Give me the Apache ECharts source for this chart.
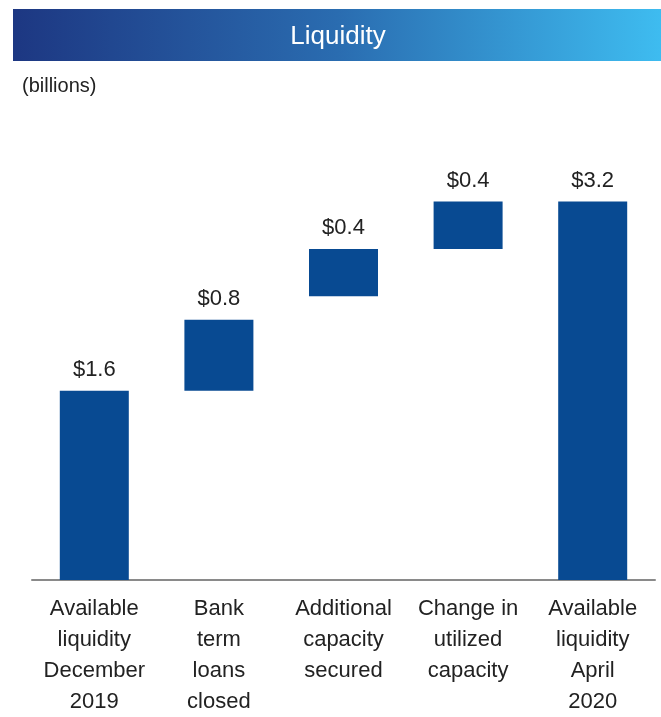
<!DOCTYPE html>
<html lang="en" style="height: 100%">
<head>
    <meta charset="utf-8"/>
    <meta name="viewport" content="width=device-width, initial-scale=1.0"/>
</head>
<body style="height: 100%; margin: 0; overflow: hidden; background: #fff">
<div id="container" style="height: 100%"></div>

<script type="text/javascript" src="https://cdn.jsdelivr.net/npm/echarts@6/dist/echarts.min.js"></script>

<script type="text/javascript">
    var categories = [
        "Available\nliquidity\nDecember\n2019",
        "Bank\nterm\nloans\nclosed",
        "Additional\ncapacity\nsecured",
        "Change in\nutilized\ncapacity",
        "Available\nliquidity\nApril\n2020"
    ];
    // invisible base under each floating bar (as drawn in the picture)
    var baseValues = [0, 1.6, 2.4, 2.8, 0];
    // visible bar heights
    var barValues = [1.6, 0.6, 0.4, 0.4, 3.2];
    // printed labels above the bars
    var valueLabels = ["$1.6", "$0.8", "$0.4", "$0.4", "$3.2"];

    var dom = document.getElementById("container");
    var myChart = echarts.init(dom, null, {renderer: "canvas"});

    var font = "Liberation Sans, Arial, sans-serif";

    var option = {
        animation: false,
        textStyle: {fontFamily: font},
        graphic: [
            {
                type: "rect",
                shape: {x: 13, y: 9, width: 648, height: 52},
                style: {
                    fill: new echarts.graphic.LinearGradient(0, 0, 1, 0, [
                        {offset: 0, color: "#1d3782"},
                        {offset: 0.5, color: "#2a6cb0"},
                        {offset: 1, color: "#3ebcf0"}
                    ])
                }
            },
            {
                type: "text",
                x: 338,
                y: 37,
                style: {
                    text: "Liquidity",
                    fill: "#fff",
                    font: "26px " + font,
                    textAlign: "center",
                    textVerticalAlign: "middle"
                }
            },
            {
                type: "text",
                x: 22,
                y: 86,
                style: {
                    text: "(billions)",
                    fill: "#222",
                    font: "20px " + font,
                    textAlign: "left",
                    textVerticalAlign: "middle"
                }
            }
        ],
        grid: {left: 32, right: 6, top: 107, bottom: 132},
        xAxis: {
            type: "category",
            data: categories,
            axisLine: {lineStyle: {color: "#8a8a8a", width: 2}},
            axisTick: {show: false},
            axisLabel: {
                interval: 0,
                color: "#222",
                fontSize: 22,
                lineHeight: 31,
                margin: 13,
                fontFamily: font
            }
        },
        yAxis: {
            type: "value",
            min: 0,
            max: 4,
            show: false,
            splitLine: {show: false}
        },
        series: [
            {
                type: "bar",
                stack: "w",
                data: baseValues,
                itemStyle: {color: "transparent"},
                silent: true,
                barWidth: 69
            },
            {
                type: "bar",
                stack: "w",
                data: barValues,
                barWidth: 69,
                itemStyle: {color: "#084a92"},
                label: {
                    show: true,
                    position: "top",
                    distance: 10,
                    fontSize: 22,
                    color: "#222",
                    fontFamily: font,
                    formatter: function (p) {
                        return valueLabels[p.dataIndex];
                    }
                }
            }
        ]
    };

    myChart.setOption(option);
    window.addEventListener("resize", myChart.resize);
</script>
</body>
</html>
